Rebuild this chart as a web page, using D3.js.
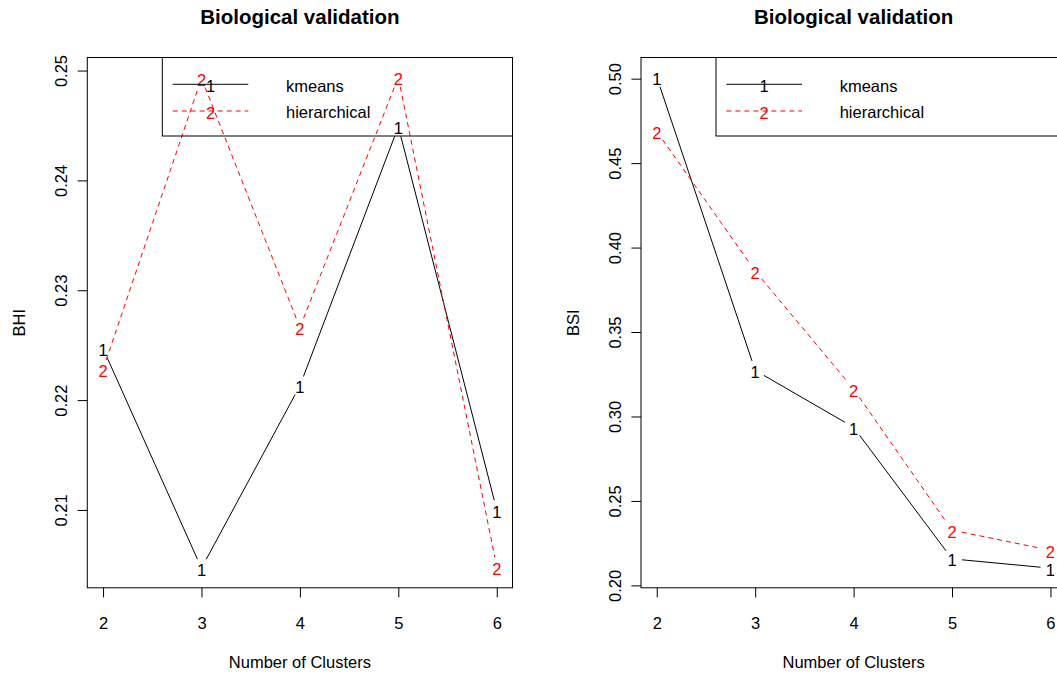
<!DOCTYPE html>
<html>
<head>
<meta charset="utf-8">
<script src="https://cdn.jsdelivr.net/npm/d3@7"></script>
<style>
    html, body { margin: 0; padding: 0; background: #fff; }
    svg { display: block; font-family: "Liberation Sans", Arial, Helvetica, sans-serif; }
</style>
</head>
<body>
<div id="chart"></div>
<script>
// ===== data =====
const clusters = [2, 3, 4, 5, 6];
const seriesNames = ["kmeans", "hierarchical"];
const seriesSymbols = ["1", "2"];
const seriesColors = ["#000000", "#ff0000"];

const bhiKmeans = [0.2247, 0.2047, 0.2213, 0.2449, 0.2100];
const bhiHier = [0.2228, 0.2493, 0.2266, 0.2494, 0.2048];
const bhiTicks = [0.21, 0.22, 0.23, 0.24, 0.25];

const bsiKmeans = [0.5009, 0.3273, 0.2936, 0.2157, 0.2102];
const bsiHier = [0.4688, 0.3861, 0.3162, 0.2327, 0.2208];
const bsiTicks = [0.20, 0.25, 0.30, 0.35, 0.40, 0.45, 0.50];

const width = 1057;
const height = 674;
const fontSize = "16.5px";

const svg = d3.select("#chart")
    .append("svg")
    .attr("width", width)
    .attr("height", height);

svg.append("rect")
    .attr("width", width)
    .attr("height", height)
    .attr("fill", "#fff");

// R style range: extent padded by 4%
function padded(values) {
    const [lo, hi] = d3.extent(values);
    const pad = (hi - lo) * 0.04;
    return [lo - pad, hi + pad];
}

function drawPanel(opts) {
    const left = opts.left, right = opts.left + 425.2;
    const top = 57.5, bottom = 587.8;

    const x = d3.scaleLinear().domain(padded(clusters)).range([left, right]);
    const y = d3.scaleLinear().domain(padded(opts.series.flat())).range([bottom, top]);

    const g = svg.append("g");

    // title
    g.append("text")
        .attr("x", (left + right) / 2)
        .attr("y", 24)
        .attr("text-anchor", "middle")
        .style("font-size", "20.5px")
        .style("font-weight", "bold")
        .text("Biological validation");

    // x axis
    const xAxis = g.append("g")
        .attr("transform", `translate(0,${bottom})`)
        .call(d3.axisBottom(x).tickValues(clusters).tickSize(9.6).tickFormat(d3.format("d")));
    xAxis.select(".domain").remove();
    xAxis.selectAll("line").attr("stroke", "#000");
    xAxis.selectAll("text")
        .attr("y", 40.8)
        .attr("dy", 0)
        .attr("fill", "#000")
        .style("font-size", fontSize)
        .style("font-family", "Liberation Sans, Arial, sans-serif");

    // y axis
    const yAxis = g.append("g")
        .attr("transform", `translate(${left},0)`)
        .call(d3.axisLeft(y).tickValues(opts.ticks).tickSize(9.6).tickFormat(d3.format(".2f")));
    yAxis.select(".domain").remove();
    yAxis.selectAll("line").attr("stroke", "#000");
    yAxis.selectAll("text")
        .attr("x", 0)
        .attr("y", 0)
        .attr("dy", 0)
        .attr("text-anchor", "middle")
        .attr("transform", "translate(-20.5,0) rotate(-90)")
        .attr("fill", "#000")
        .style("font-size", fontSize)
        .style("font-family", "Liberation Sans, Arial, sans-serif");

    // axis titles
    g.append("text")
        .attr("x", (left + right) / 2)
        .attr("y", 668)
        .attr("text-anchor", "middle")
        .style("font-size", fontSize)
        .text("Number of Clusters");

    g.append("text")
        .attr("transform", `translate(${left - 62},${(top + bottom) / 2}) rotate(-90)`)
        .attr("text-anchor", "middle")
        .style("font-size", fontSize)
        .text(opts.ylab);

    // series, type = "b": symbols with gapped segments
    const gap = 10;
    opts.series.forEach((vals, si) => {
        const pts = vals.map((v, i) => [x(clusters[i]), y(v)]);
        const segs = d3.pairs(pts).map(([a, b]) => {
            const dx = b[0] - a[0], dy = b[1] - a[1];
            const len = Math.hypot(dx, dy);
            const ux = dx / len, uy = dy / len;
            return [a[0] + ux * gap, a[1] + uy * gap, b[0] - ux * gap, b[1] - uy * gap];
        });
        g.selectAll(null)
            .data(segs)
            .enter().append("line")
            .attr("x1", d => d[0]).attr("y1", d => d[1])
            .attr("x2", d => d[2]).attr("y2", d => d[3])
            .attr("stroke", seriesColors[si])
            .attr("stroke-width", 1)
            .attr("stroke-dasharray", si === 1 ? "5,4" : null);

        g.selectAll(null)
            .data(pts)
            .enter().append("text")
            .attr("x", d => d[0])
            .attr("y", d => d[1])
            .attr("dy", "0.46em")
            .attr("text-anchor", "middle")
            .attr("fill", seriesColors[si])
            .style("font-size", fontSize)
            .text(seriesSymbols[si]);
    });

    // plot box
    g.append("rect")
        .attr("x", left)
        .attr("y", top)
        .attr("width", right - left)
        .attr("height", bottom - top)
        .attr("fill", "none")
        .attr("stroke", "#000")
        .attr("stroke-width", 1);

    // legend (topright, transparent)
    const lg = g.append("g").attr("transform", `translate(${right - 350.2},${top})`);
    lg.append("rect")
        .attr("width", 350.2)
        .attr("height", 78.5)
        .attr("fill", "none")
        .attr("stroke", "#000")
        .attr("stroke-width", 1);

    seriesNames.forEach((name, si) => {
        const ly = 26.8 + si * 26.7;
        lg.append("line")
            .attr("x1", 10.4).attr("x2", 86)
            .attr("y1", ly).attr("y2", ly)
            .attr("stroke", seriesColors[si])
            .attr("stroke-dasharray", si === 1 ? "5,4" : null);
        lg.append("text")
            .attr("x", 48.2)
            .attr("y", ly)
            .attr("dy", "0.46em")
            .attr("text-anchor", "middle")
            .attr("fill", seriesColors[si])
            .style("font-size", fontSize)
            .text(seriesSymbols[si]);
        lg.append("text")
            .attr("x", 123.7)
            .attr("y", ly)
            .attr("dy", "0.44em")
            .style("font-size", fontSize)
            .text(name);
    });
}

drawPanel({ left: 87.3, series: [bhiKmeans, bhiHier], ticks: bhiTicks, ylab: "BHI" });
drawPanel({ left: 641, series: [bsiKmeans, bsiHier], ticks: bsiTicks, ylab: "BSI" });
</script>
</body>
</html>
